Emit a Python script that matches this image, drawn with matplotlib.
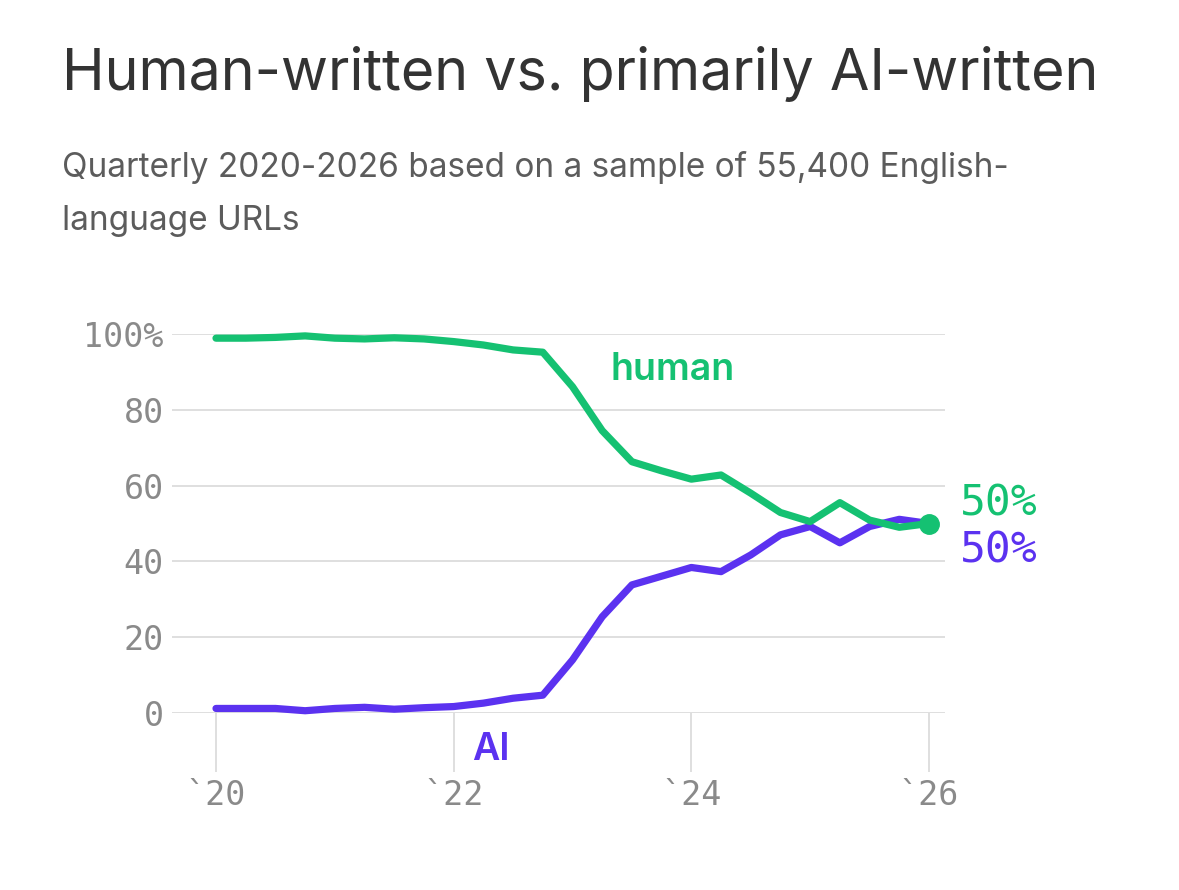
import matplotlib
matplotlib.use("Agg")
import matplotlib.pyplot as plt

# ---- data ----
quarters = [f"{y}Q{q}" for y in range(2020, 2026) for q in range(1, 5)] + ["2026Q1"]
human = [98.9, 98.9, 99.1, 99.5, 98.9, 98.7, 99.0, 98.7, 98.0, 97.1, 95.8, 95.2,
         86.1, 74.5, 66.3, 63.9, 61.7, 62.8, 58.0, 52.9, 50.5, 55.5, 50.9, 49.0, 50.0]
ai = [1.2, 1.2, 1.2, 0.6, 1.2, 1.5, 1.0, 1.4, 1.7, 2.6, 3.9, 4.7,
      14.0, 25.4, 33.8, 36.1, 38.4, 37.3, 41.7, 47.0, 49.2, 44.9, 49.2, 51.1, 50.0]
xticks = [2020, 2022, 2024, 2026]
xticklabels = ["`20", "`22", "`24", "`26"]
yticks = [0, 20, 40, 60, 80, 100]
yticklabels = ["0", "20", "40", "60", "80", "100%"]

x = [int(s[:4]) + (int(s[-1]) - 1) * 0.25 for s in quarters]

GREEN = "#15C172"
PURPLE = "#5B32F0"
GRID = "#d6d6d6"
TICK = "#8a8a8a"

W, H = 1179, 890
fig = plt.figure(figsize=(W / 100, H / 100), dpi=100)
fig.patch.set_facecolor("white")

L, R, T, B = 172, 945, 334, 713
ax = fig.add_axes([L / W, (H - B) / H, (R - L) / W, (B - T) / H])
ax.set_xlim(2020 - (216 - L) / 118.8, 2026 + (R - 929) / 118.8)
ax.set_ylim(0, 100)

for s in ax.spines.values():
    s.set_visible(False)

ax.set_yticks(yticks)
ax.set_yticklabels(yticklabels, family="DejaVu Sans Mono", fontsize=24, color=TICK)
ax.set_xticks(xticks)
ax.set_xticklabels(xticklabels, family="DejaVu Sans Mono", fontsize=24, color=TICK)
ax.tick_params(axis="y", length=0, pad=6)
ax.tick_params(axis="x", length=42.5, width=1.1, color=GRID, pad=5)
ax.yaxis.grid(True, color=GRID, lw=1.1)
ax.set_axisbelow(True)

ax.plot(x, ai, color=PURPLE, lw=5.2, solid_joinstyle="round", solid_capstyle="round",
        clip_on=False, zorder=3)
ax.plot(x, human, color=GREEN, lw=5.2, solid_joinstyle="round", solid_capstyle="round",
        clip_on=False, zorder=4)
ax.plot([x[-1]], [human[-1]], "o", color=GREEN, markersize=14, clip_on=False, zorder=5)

ax.text(2023.32, 87.9, "human", color=GREEN, fontsize=27, family="Inter",
        fontweight="semibold", va="baseline", ha="left")
ax.text(2022.155, -12.4, "AI", color=PURPLE, fontsize=27, family="Inter",
        fontweight="semibold", va="baseline", ha="left", clip_on=False)

ax.text(2026.26, 52.2, f"{human[-1]:.0f}%", color=GREEN, fontsize=31,
        family="DejaVu Sans Mono", va="baseline", ha="left", clip_on=False)
ax.text(2026.26, 39.6, f"{ai[-1]:.0f}%", color=PURPLE, fontsize=31,
        family="DejaVu Sans Mono", va="baseline", ha="left", clip_on=False)

fig.text(62 / W, (H - 90) / H, "Human-written vs. primarily AI-written",
         family="Inter", fontsize=41.3, color="#333333", va="baseline", ha="left")
fig.text(62 / W, (H - 177) / H, "Quarterly 2020-2026 based on a sample of 55,400 English-",
         family="Inter", fontsize=24, color="#5c5c5c", va="baseline", ha="left")
fig.text(62 / W, (H - 230) / H, "language URLs",
         family="Inter", fontsize=24, color="#5c5c5c", va="baseline", ha="left")

fig.savefig("out.png", dpi=100, facecolor="white")
